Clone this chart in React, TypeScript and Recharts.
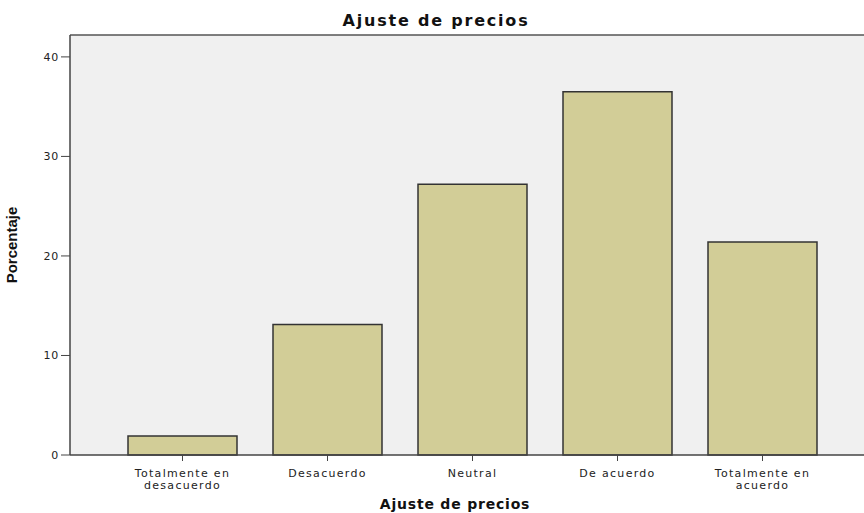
import React from 'react';
import { BarChart, Bar, XAxis, YAxis, CartesianGrid, ReferenceLine, Label } from 'recharts';

const categories = ['Totalmente en\ndesacuerdo', 'Desacuerdo', 'Neutral', 'De acuerdo', 'Totalmente en\nacuerdo'];
const percentages = [1.9, 13.1, 27.2, 36.5, 21.4];
const yTicks = [0, 10, 20, 30, 40];
const yMax = 42.2;

const chartData = categories.map((c, i) => ({ categoria: c, porcentaje: percentages[i] }));

const FONT = '"DejaVu Sans", Arial, sans-serif';

// two-line category labels, like the SPSS output
function CategoryTick(props: any) {
  const { x, y, payload } = props;
  const lines = String(payload.value).split('\n');
  return (
    <g>
      {lines.map((l: string, i: number) => (
        <text key={i} x={x} y={y + 14 + i * 12} textAnchor="middle" fontFamily={FONT} fontSize={11} letterSpacing={1.3} fill="#222">
          {l}
        </text>
      ))}
    </g>
  );
}

export default function App() {
  return (
    <div style={{ position: 'absolute', left: 0, top: 0, width: 864, height: 513, background: '#fff' }}>
      <div style={{ position: 'absolute', left: 0, top: 11, width: 864, textAlign: 'center', fontFamily: FONT, fontWeight: 'bold', fontSize: 16, letterSpacing: 1.8, color: '#111', paddingLeft: 4 }}>
        Ajuste de precios
      </div>
      <BarChart width={864} height={513} data={chartData} margin={{ top: 35, right: 0, bottom: 0, left: 8 }}>
        <CartesianGrid fill="#f0f0f0" horizontal={false} vertical={false} />
        <ReferenceLine y={yMax} stroke="#555" strokeWidth={1.5} />
        <XAxis
          dataKey="categoria"
          interval={0}
          padding={{ left: 40, right: 29 }}
          height={58}
          tickSize={6}
          tickLine={{ stroke: '#444' }}
          axisLine={{ stroke: '#444', strokeWidth: 1.5 }}
          tick={<CategoryTick />}
        >
          <Label value="Ajuste de precios" position="insideBottom" offset={4} dx={-12} style={{ fontFamily: FONT, fontWeight: 'bold', fontSize: 14, letterSpacing: 0.8, fill: '#111' }} />
        </XAxis>
        <YAxis
          type="number"
          domain={[0, yMax]}
          ticks={yTicks}
          width={62}
          tickSize={9}
          tickMargin={2}
          tickLine={{ stroke: '#444' }}
          axisLine={{ stroke: '#444', strokeWidth: 1.5 }}
          tick={{ fontFamily: FONT, fontSize: 11, letterSpacing: 0.8, fill: '#222' }}
        >
          <Label value="Porcentaje" angle={-90} position="insideLeft" offset={4} style={{ fontFamily: '"Liberation Sans Narrow", "Liberation Sans", Arial, sans-serif', fontWeight: 'bold', fontSize: 15, fill: '#111', textAnchor: 'middle' }} />
        </YAxis>
        <Bar dataKey="porcentaje" fill="#d2cd97" stroke="#333" strokeWidth={1.5} barSize={109} isAnimationActive={false} />
      </BarChart>
    </div>
  );
}
